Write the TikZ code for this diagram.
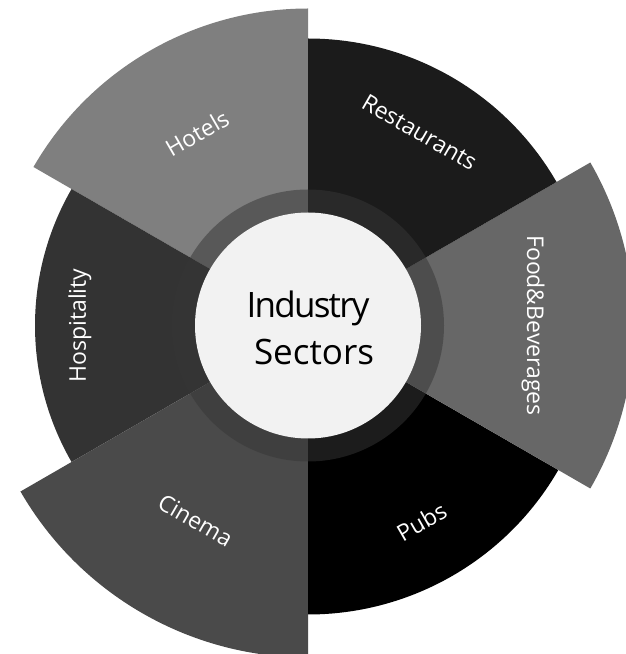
\documentclass[tikz,border=0pt]{standalone}
\usepackage{fontspec}
\setmainfont{Open Sans}
\definecolor{hotelgray}{HTML}{7F7F7F}
\definecolor{hospgray}{HTML}{333333}
\definecolor{cinegray}{HTML}{4A4A4A}
\definecolor{pubgray}{HTML}{000000}
\definecolor{foodgray}{HTML}{676767}
\definecolor{restgray}{HTML}{1B1B1B}
\definecolor{ringgray}{HTML}{363636}
\definecolor{innergray}{HTML}{F2F2F2}
\begin{document}
\begin{tikzpicture}[x=1pt,y=1pt,
  lbl/.style={text=white,font=\fontsize{23}{28}\selectfont,inner sep=0pt},
  ctext/.style={text=black,font=\fontsize{35}{42}\selectfont,inner sep=0pt,anchor=base}]
\useasboundingbox (0,0) rectangle (626,654);
\clip (0,0) rectangle (626,654);
\coordinate (c) at (308,328.5);
\foreach \a/\r/\col in {90/317/hotelgray,150/273/hospgray,210/332/cinegray,270/289/pubgray,330/326/foodgray,30/287/restgray}
  \fill[\col] (c) -- ++(\a:\r) arc[start angle=\a, delta angle=60, radius=\r] -- cycle;
\fill[ringgray,opacity=0.52] (c) circle[radius=136];
\fill[innergray] (c) circle[radius=113];
\node[lbl,rotate=30] (hotels) at ([shift={(120:222)}]c) {Hotels};
\node[lbl,rotate=-30] (rest) at ([shift={(60:223)}]c) {Restaurants};
\node[lbl,rotate=-90] (food) at ([shift={(0:225)}]c) {Food\&Beverages};
\node[lbl,rotate=30] (pubs) at ([shift={(-60:227)}]c) {Pubs};
\node[lbl,rotate=-30] (cinema) at ([shift={(240:225)}]c) {Cinema};
\node[lbl,rotate=90] (hosp) at ([shift={(180:228)}]c) {Hospitality};
\node[ctext] (ind) at (308,336) {\addfontfeature{LetterSpace=-5}Industry};
\node[ctext] (sec) at (314,289) {Sectors};
\end{tikzpicture}
\end{document}
